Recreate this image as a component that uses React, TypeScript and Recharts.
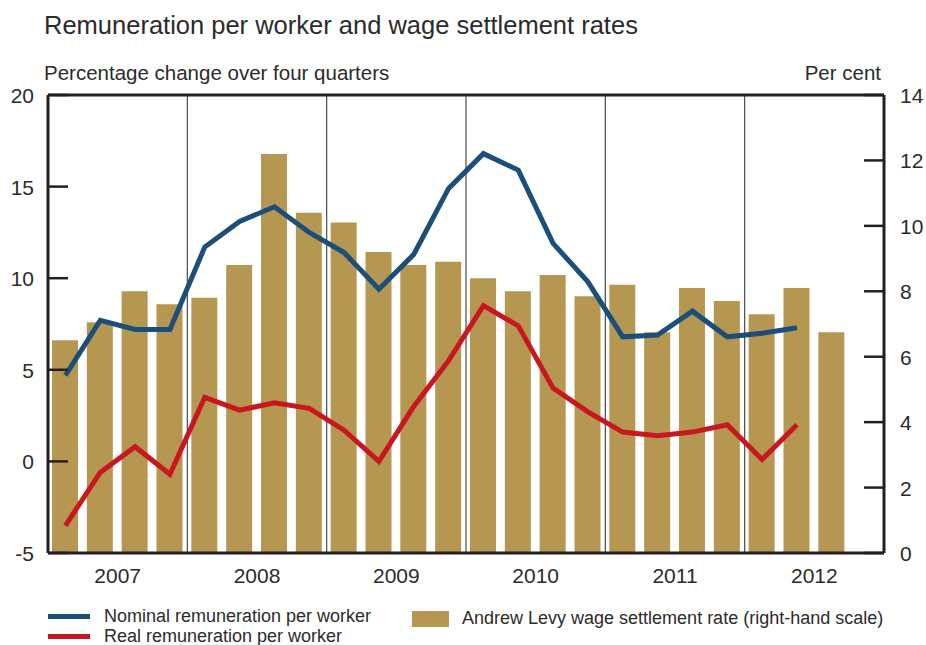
import {
  Bar,
  ComposedChart,
  Line,
  ReferenceLine,
  XAxis,
  YAxis,
} from "recharts";

// Quarters 2007 Q1 .. 2012 Q4 (last quarter has no data yet).
const QUARTERS = [
  "2007Q1", "2007Q2", "2007Q3", "2007Q4",
  "2008Q1", "2008Q2", "2008Q3", "2008Q4",
  "2009Q1", "2009Q2", "2009Q3", "2009Q4",
  "2010Q1", "2010Q2", "2010Q3", "2010Q4",
  "2011Q1", "2011Q2", "2011Q3", "2011Q4",
  "2012Q1", "2012Q2", "2012Q3", "2012Q4",
];

const YEARS = ["2007", "2008", "2009", "2010", "2011", "2012"];

// Percentage change over four quarters (left-hand scale)
const NOMINAL = [
  4.7, 7.7, 7.2, 7.2, 11.7, 13.1, 13.9, 12.5, 11.4, 9.4, 11.3, 14.9,
  16.8, 15.9, 11.9, 9.8, 6.8, 6.9, 8.2, 6.8, 7.0, 7.3,
];
const REAL = [
  -3.5, -0.6, 0.8, -0.7, 3.5, 2.8, 3.2, 2.9, 1.7, 0.0, 3.0, 5.5,
  8.5, 7.4, 4.0, 2.7, 1.6, 1.4, 1.6, 2.0, 0.1, 2.0,
];

// Andrew Levy wage settlement rate, per cent (right-hand scale)
const LEVY = [
  6.5, 7.05, 8.0, 7.6, 7.8, 8.8, 12.2, 10.4, 10.1, 9.2, 8.8, 8.9,
  8.4, 8.0, 8.5, 7.85, 8.2, 6.75, 8.1, 7.7, 7.3, 8.1, 6.75,
];

const LEFT_TICKS = [-5, 0, 5, 10, 15, 20];
const RIGHT_TICKS = [0, 2, 4, 6, 8, 10, 12, 14];

const data = QUARTERS.map((q, i) => ({
  q,
  x: i + 0.5,
  nominal: NOMINAL[i],
  real: REAL[i],
  levy: LEVY[i],
}));

const BLUE = "#1b4f7a";
const RED = "#c8171e";
const GOLD = "#b59752";
const INK = "#231f20";
const TXT = "#2b2b2b";
const FONT = "'Liberation Sans', Arial, sans-serif";

const W = 926;
const H = 645;
const LEFT_W = 48;
const RIGHT_W = 42;
const TICK_LEN = 20;

function LeftTick(props: any) {
  const { x, y, payload } = props;
  const edge = x + 8; // axis line position
  return (
    <g>
      <line x1={edge} x2={edge + TICK_LEN} y1={y} y2={y} stroke={INK} strokeWidth={2.5} />
      <text x={edge - 14} y={y + 8} textAnchor="end" fontSize={21} fill={TXT} fontFamily={FONT}>
        {payload.value}
      </text>
    </g>
  );
}

function RightTick(props: any) {
  const { x, y, payload } = props;
  const edge = x - 8;
  return (
    <g>
      <line x1={edge - TICK_LEN} x2={edge} y1={y} y2={y} stroke={INK} strokeWidth={2.5} />
      <text x={edge + 16} y={y + 8} textAnchor="start" fontSize={21} fill={TXT} fontFamily={FONT}>
        {payload.value}
      </text>
    </g>
  );
}

function YearTick(props: any) {
  const { x, y, payload } = props;
  const year = YEARS[Math.floor(payload.value / 4)];
  return (
    <text x={x} y={y + 22} textAnchor="middle" fontSize={21} fill={TXT} fontFamily={FONT}>
      {year}
    </text>
  );
}

export default function App() {
  return (
    <div
      style={{
        position: "absolute",
        left: 0,
        top: 0,
        width: W,
        height: H,
        background: "#fff",
        fontFamily: FONT,
        color: TXT,
        overflow: "hidden",
      }}
    >
      <div style={{ position: "absolute", left: 44, top: 11, fontSize: 25.5, whiteSpace: "nowrap" }}>
        Remuneration per worker and wage settlement rates
      </div>
      <div style={{ position: "absolute", left: 44, top: 61, fontSize: 20.5, whiteSpace: "nowrap" }}>
        Percentage change over four quarters
      </div>
      <div style={{ position: "absolute", right: 45, top: 61, fontSize: 20.5, whiteSpace: "nowrap" }}>
        Per cent
      </div>

      <div style={{ position: "absolute", left: 0, top: 0 }}>
        <ComposedChart
          width={W}
          height={H}
          data={data}
          margin={{ top: 95, right: 0, bottom: 52, left: 0 }}
        >
          <XAxis
            xAxisId="x"
            dataKey="x"
            type="number"
            domain={[0, 24]}
            ticks={[2, 6, 10, 14, 18, 22]}
            tick={<YearTick />}
            tickLine={false}
            axisLine={false}
            height={40}
          />
          <YAxis
            yAxisId="left"
            orientation="left"
            domain={[-5, 20]}
            ticks={LEFT_TICKS}
            width={LEFT_W}
            tick={<LeftTick />}
            tickLine={false}
            axisLine={false}
            allowDataOverflow
          />
          <YAxis
            yAxisId="right"
            orientation="right"
            domain={[0, 14]}
            ticks={RIGHT_TICKS}
            width={RIGHT_W}
            tick={<RightTick />}
            tickLine={false}
            axisLine={false}
            allowDataOverflow
          />
          <Bar
            xAxisId="x"
            yAxisId="right"
            dataKey="levy"
            fill={GOLD}
            barSize={26}
            isAnimationActive={false}
          />
          {[4, 8, 12, 16, 20].map((v) => (
            <ReferenceLine
              key={v}
              xAxisId="x"
              yAxisId="left"
              x={v}
              stroke="#4a4a4a"
              strokeWidth={1.2}
            />
          ))}
          <Line
            xAxisId="x"
            yAxisId="left"
            dataKey="nominal"
            stroke={BLUE}
            strokeWidth={5}
            dot={false}
            activeDot={false}
            strokeLinejoin="miter"
            isAnimationActive={false}
          />
          <Line
            xAxisId="x"
            yAxisId="left"
            dataKey="real"
            stroke={RED}
            strokeWidth={5}
            dot={false}
            activeDot={false}
            strokeLinejoin="miter"
            isAnimationActive={false}
          />
          {/* plot frame */}
          <ReferenceLine xAxisId="x" yAxisId="left" y={20} stroke={INK} strokeWidth={3} />
          <ReferenceLine xAxisId="x" yAxisId="left" y={-5} stroke={INK} strokeWidth={3} />
          <ReferenceLine xAxisId="x" yAxisId="left" x={0} stroke={INK} strokeWidth={3} />
          <ReferenceLine xAxisId="x" yAxisId="left" x={24} stroke={INK} strokeWidth={3} />
        </ComposedChart>
      </div>

      {/* legend */}
      <div style={{ position: "absolute", left: 48, top: 614, width: 42, height: 5, background: BLUE }} />
      <div style={{ position: "absolute", left: 104, top: 606, fontSize: 18, whiteSpace: "nowrap" }}>
        Nominal remuneration per worker
      </div>
      <div style={{ position: "absolute", left: 48, top: 634, width: 42, height: 5, background: RED }} />
      <div style={{ position: "absolute", left: 104, top: 626, fontSize: 18, whiteSpace: "nowrap" }}>
        Real remuneration per worker
      </div>
      <div style={{ position: "absolute", left: 412, top: 611, width: 37, height: 16, background: GOLD }} />
      <div style={{ position: "absolute", left: 462, top: 608, fontSize: 18, whiteSpace: "nowrap" }}>
        Andrew Levy wage settlement rate (right-hand scale)
      </div>
    </div>
  );
}
